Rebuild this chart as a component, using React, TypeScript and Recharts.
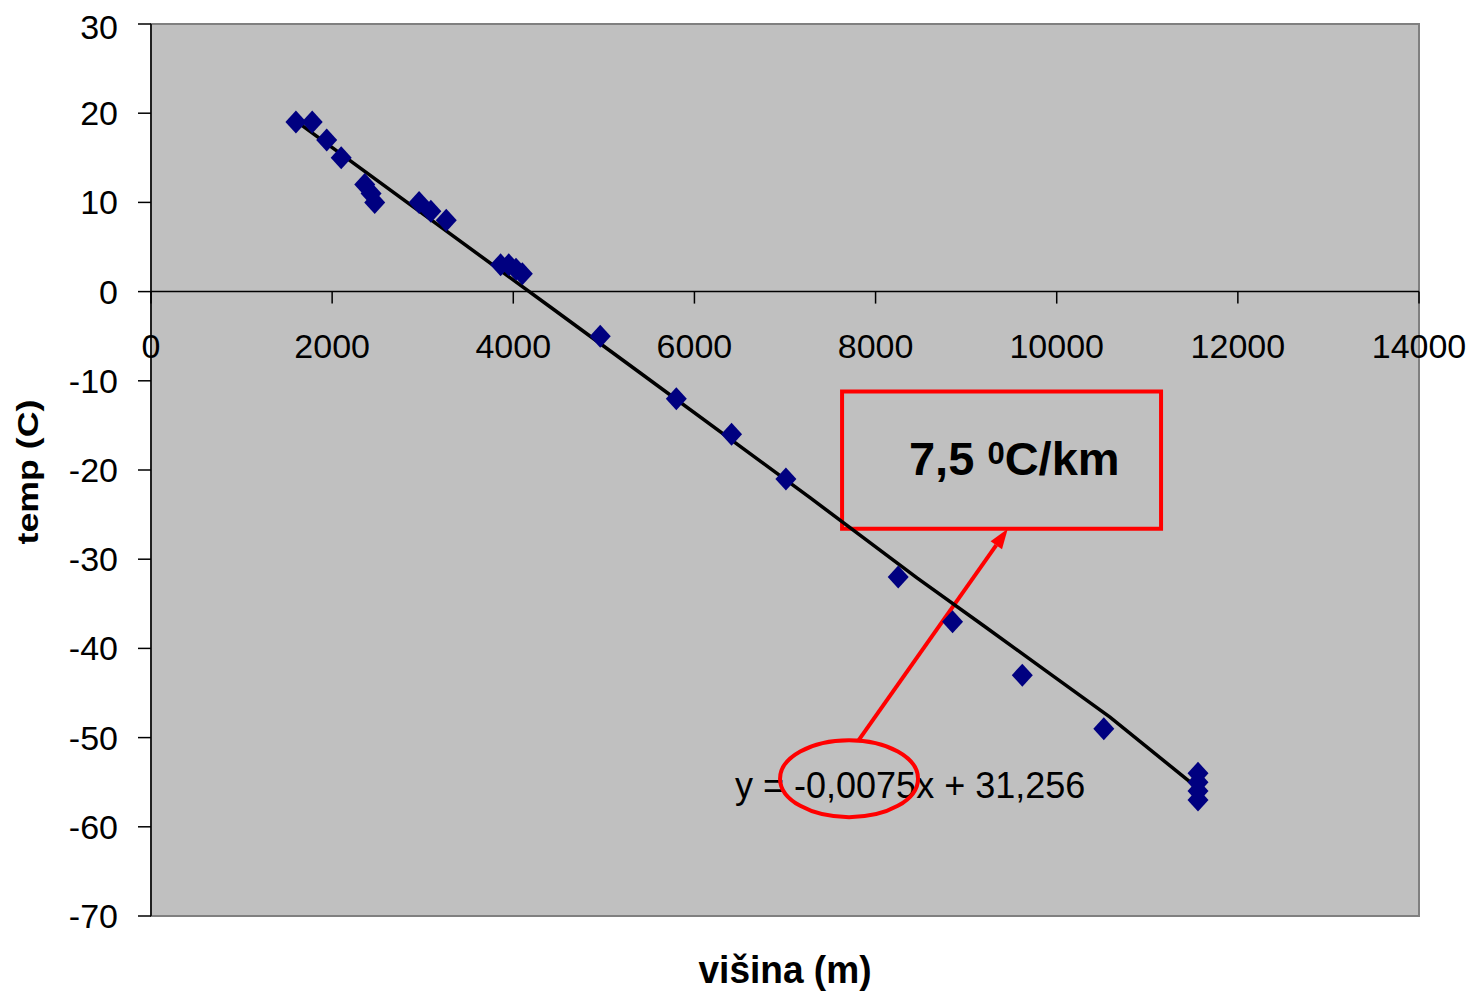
import React from 'react';
import {
  ScatterChart,
  Scatter,
  XAxis,
  YAxis,
  CartesianGrid,
  ReferenceLine,
  ReferenceArea,
  ReferenceDot,
} from 'recharts';

const heights = [1600, 1780, 1940, 2100, 2360, 2430, 2470, 2960, 3090, 3260, 3860, 3950, 4030, 4100, 4960, 5800, 6410, 7010, 8250, 8850, 9620, 10520, 11560, 11560, 11560, 11560];
const temps = [19, 19, 17, 15, 12, 11, 10, 10, 9, 8, 3, 3, 2.5, 2, -5, -12, -16, -21, -32, -37, -43, -49, -54, -55, -56, -57];

// trend line as it is drawn in the picture
const trendX = [1590, 4405, 5399, 7276, 8457, 9186, 9893, 10588, 11560];
const trendY = [19.2, -1.7, -9.1, -23.1, -32.1, -37.4, -42.6, -47.7, -55.7];

const xTicks = [0, 2000, 4000, 6000, 8000, 10000, 12000, 14000];
const yTicks = [-70, -60, -50, -40, -30, -20, -10, 0, 10, 20, 30];

const equation = 'y = -0,0075x + 31,256';

const points = heights.map((h, i) => ({ x: h, y: temps[i] }));
const trend = trendX.map((x, i) => ({ x, y: trendY[i] }));
const xTickPts = xTicks.map((x) => ({ x, y: 0 }));

const FONT = '"Liberation Sans", Arial, sans-serif';
const RED = '#FF0000';

const Diamond = (props: any) => {
  const { cx, cy } = props;
  return (
    <polygon
      points={`${cx},${cy - 11.5} ${cx + 10.5},${cy} ${cx},${cy + 11.5} ${cx - 10.5},${cy}`}
      fill="#000080"
    />
  );
};

const XTick = (props: any) => {
  const { cx, cy, payload } = props;
  return (
    <g>
      <line x1={cx} y1={cy} x2={cx} y2={cy + 12} stroke="#000" strokeWidth={1.5} />
      <text x={cx} y={cy + 66} textAnchor="middle" fontSize={34} fontFamily={FONT} fill="#000">
        {payload.x}
      </text>
    </g>
  );
};

const Arrow = (props: any) => {
  const { x1, y1, x2, y2 } = props;
  const a = Math.atan2(y2 - y1, x2 - x1);
  const len = 20;
  const w = 7;
  const bx = x2 - len * Math.cos(a);
  const by = y2 - len * Math.sin(a);
  const px = -Math.sin(a) * w;
  const py = Math.cos(a) * w;
  return (
    <g>
      <line x1={x1} y1={y1} x2={bx} y2={by} stroke={RED} strokeWidth={4} />
      <polygon points={`${x2},${y2} ${bx + px},${by + py} ${bx - px},${by - py}`} fill={RED} />
    </g>
  );
};

export default function App() {
  return (
    <div style={{ width: 1459, height: 984, fontFamily: FONT }}>
      <ScatterChart width={1459} height={984} margin={{ top: 16, right: 48, bottom: 0, left: 8 }}>
        <CartesianGrid fill="#C0C0C0" horizontal={false} vertical={false} />
        <XAxis
          type="number"
          dataKey="x"
          domain={[0, 14000]}
          ticks={xTicks}
          tick={false}
          tickLine={false}
          axisLine={false}
          height={76}
          label={{
            content: (p: any) => {
              const vb = p.viewBox;
              return (
                <text
                  x={vb.x + vb.width / 2}
                  y={vb.y + 67}
                  textAnchor="middle"
                  fontSize={38}
                  fontWeight="bold"
                  fontFamily={FONT}
                  textLength={173}
                  lengthAdjust="spacingAndGlyphs"
                  fill="#000"
                >
                  višina (m)
                </text>
              );
            },
          }}
        />
        <YAxis
          type="number"
          dataKey="y"
          domain={[-70, 30]}
          ticks={yTicks}
          width={135}
          tickSize={13}
          tickMargin={20}
          axisLine={{ stroke: '#000', strokeWidth: 1.5 }}
          tickLine={{ stroke: '#000', strokeWidth: 1.5 }}
          tick={{ fontSize: 34, fill: '#000', fontFamily: FONT }}
          label={{
            content: (p: any) => {
              const vb = p.viewBox;
              const x = vb.x + 22;
              const y = vb.y + vb.height / 2 + 2;
              return (
                <text
                  x={x}
                  y={y}
                  transform={`rotate(-90, ${x}, ${y})`}
                  textAnchor="middle"
                  fontSize={29}
                  fontWeight="bold"
                  fontFamily={FONT}
                  textLength={145}
                  lengthAdjust="spacingAndGlyphs"
                  fill="#000"
                >
                  temp (C)
                </text>
              );
            },
          }}
        />
        <ReferenceArea x1={0} x2={14000} y1={-70} y2={30} fill="none" stroke="#808080" strokeWidth={2} />
        <ReferenceLine y={0} stroke="#000" strokeWidth={1.5} />
        <Scatter data={xTickPts} shape={XTick} isAnimationActive={false} />
        <Scatter
          data={trend}
          line={{ stroke: '#000', strokeWidth: 3.5 }}
          shape={() => <g />}
          isAnimationActive={false}
        />
        <Scatter data={points} shape={Diamond} isAnimationActive={false} />
        <ReferenceDot
          x={6448}
          y={-56.8}
          shape={(p: any) => (
            <text x={p.cx} y={p.cy} fontSize={36} fontFamily={FONT} fill="#000">
              {equation}
            </text>
          )}
        />
        <ReferenceDot
          x={7707}
          y={-54.6}
          shape={(p: any) => (
            <ellipse cx={p.cx} cy={p.cy} rx={69} ry={38.5} fill="none" stroke={RED} strokeWidth={4} />
          )}
        />
        <ReferenceLine
          segment={[
            { x: 7806, y: -50.4 },
            { x: 9460, y: -26.6 },
          ]}
          shape={Arrow}
        />
        <ReferenceArea x1={7630} x2={11152} y1={-26.6} y2={-11.2} fill="none" stroke={RED} strokeWidth={4} />
        <ReferenceDot
          x={8369}
          y={-20.6}
          shape={(p: any) => (
            <text x={p.cx} y={p.cy} fontSize={47} fontWeight="bold" fontFamily={FONT} fill="#000">
              7,5{' '}
              <tspan fontSize={31} dy={-11}>
                0
              </tspan>
              <tspan dy={11}>C/km</tspan>
            </text>
          )}
        />
      </ScatterChart>
    </div>
  );
}
